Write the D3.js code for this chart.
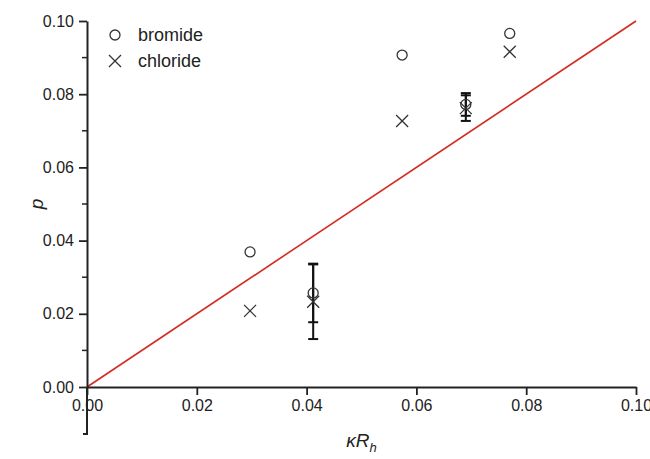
<!DOCTYPE html>
<html>
<head>
<meta charset="utf-8" />
<title>p vs kappa Rh</title>
<style>
  body { margin: 0; background: #fff; }
  #chart { width: 650px; height: 459px; }
  text { font-family: "Liberation Sans", Arial, sans-serif; fill: #222; }
</style>
</head>
<body>
<div id="chart"></div>
<script src="https://cdnjs.cloudflare.com/ajax/libs/d3/7.8.5/d3.min.js"></script>
<script>
var bromideX = [0.0297, 0.0412, 0.0574, 0.0690, 0.0770];
var bromideY = [0.0369, 0.0257, 0.0907, 0.0772, 0.0966];
var bromideErr = [null, 0.0080, null, 0.0031, null];
var chlorideX = [0.0297, 0.0412, 0.0574, 0.0690, 0.0770];
var chlorideY = [0.0208, 0.0233, 0.0727, 0.0762, 0.0916];
var chlorideErr = [null, 0.0102, null, 0.0035, null];
var fitLine = [[0, 0], [0.1, 0.1]];
var tickValues = [0, 0.02, 0.04, 0.06, 0.08, 0.10];

var width = 650, height = 459;
var svg = d3.select("#chart").append("svg")
    .attr("width", width)
    .attr("height", height);

var x = d3.scaleLinear().domain([0, 0.1]).range([87, 636]);
var y = d3.scaleLinear().domain([0, 0.1]).range([387, 21]);

// fit line
svg.append("path")
    .attr("d", d3.line().x(function (d) { return x(d[0]); }).y(function (d) { return y(d[1]); })(fitLine))
    .attr("stroke", "#d42a22")
    .attr("stroke-width", 1.6)
    .attr("fill", "none");

// axes
var xAxis = svg.append("g")
    .attr("transform", "translate(0," + y(0) + ")")
    .call(d3.axisBottom(x).tickValues(tickValues).tickFormat(d3.format(".2f")).tickSize(8).tickSizeOuter(0).tickPadding(5));
var yAxis = svg.append("g")
    .attr("transform", "translate(" + x(0) + ",0)")
    .call(d3.axisLeft(y).tickValues(tickValues).tickFormat(d3.format(".2f")).tickSize(8).tickSizeOuter(0).tickPadding(5));
// minor y ticks
yAxis.selectAll(".minor")
    .data([0.01, 0.03, 0.05, 0.07, 0.09])
    .enter().append("line")
    .attr("x1", 0).attr("x2", -5)
    .attr("y1", function (d) { return y(d); })
    .attr("y2", function (d) { return y(d); })
    .attr("stroke", "#222").attr("stroke-width", 1.5);
// axis line extension below x axis
yAxis.append("path")
    .attr("d", "M0," + y(0) + "V434H-4")
    .attr("stroke", "#222").attr("stroke-width", 2).attr("fill", "none");

[xAxis, yAxis].forEach(function (a) {
    a.select(".domain").attr("stroke", "#222").attr("stroke-width", 2);
    a.selectAll(".tick line").attr("stroke", "#222").attr("stroke-width", 1.8);
    a.selectAll(".tick text").style("font-size", "16px").attr("fill", "#222");
});

// axis labels
svg.append("text")
    .attr("transform", "translate(43," + y(0.05) + ") rotate(-90)")
    .attr("text-anchor", "middle")
    .style("font-size", "19px")
    .style("font-style", "italic")
    .text("p");
var xl = svg.append("text")
    .attr("x", x(0.05))
    .attr("y", 447)
    .attr("text-anchor", "middle")
    .style("font-size", "19px")
    .style("font-style", "italic");
xl.append("tspan").text("\u03baR");
xl.append("tspan").attr("dy", 5).style("font-size", "13px").text("h");

// error bars
function errorBars(xs, ys, errs) {
    xs.forEach(function (xv, i) {
        if (errs[i] == null) return;
        var g = svg.append("g").attr("stroke", "#111").attr("stroke-width", 2);
        var lo = y(ys[i] - errs[i]), hi = y(ys[i] + errs[i]), cx = x(xv);
        g.append("line").attr("x1", cx).attr("x2", cx).attr("y1", lo).attr("y2", hi);
        g.append("line").attr("x1", cx - 5).attr("x2", cx + 5).attr("y1", lo).attr("y2", lo);
        g.append("line").attr("x1", cx - 5).attr("x2", cx + 5).attr("y1", hi).attr("y2", hi);
    });
}
errorBars(bromideX, bromideY, bromideErr);
errorBars(chlorideX, chlorideY, chlorideErr);

// markers
var crossPath = "M-6,-6L6,6M-6,6L6,-6";
svg.selectAll(".bromide")
    .data(bromideX)
    .enter().append("circle")
    .attr("cx", function (d) { return x(d); })
    .attr("cy", function (d, i) { return y(bromideY[i]); })
    .attr("r", 5)
    .attr("fill", "none")
    .attr("stroke", "#333")
    .attr("stroke-width", 1.3);
svg.selectAll(".chloride")
    .data(chlorideX)
    .enter().append("path")
    .attr("transform", function (d, i) { return "translate(" + x(d) + "," + y(chlorideY[i]) + ")"; })
    .attr("d", crossPath)
    .attr("fill", "none")
    .attr("stroke", "#333")
    .attr("stroke-width", 1.3);

// legend
var legend = svg.append("g");
legend.append("circle").attr("cx", 115).attr("cy", 35).attr("r", 5)
    .attr("fill", "none").attr("stroke", "#333").attr("stroke-width", 1.3);
legend.append("path").attr("transform", "translate(115,61)").attr("d", crossPath)
    .attr("fill", "none").attr("stroke", "#333").attr("stroke-width", 1.3);
legend.append("text").attr("x", 138).attr("y", 41).style("font-size", "18px").text("bromide");
legend.append("text").attr("x", 138).attr("y", 67).style("font-size", "18px").text("chloride");
</script>
</body>
</html>
